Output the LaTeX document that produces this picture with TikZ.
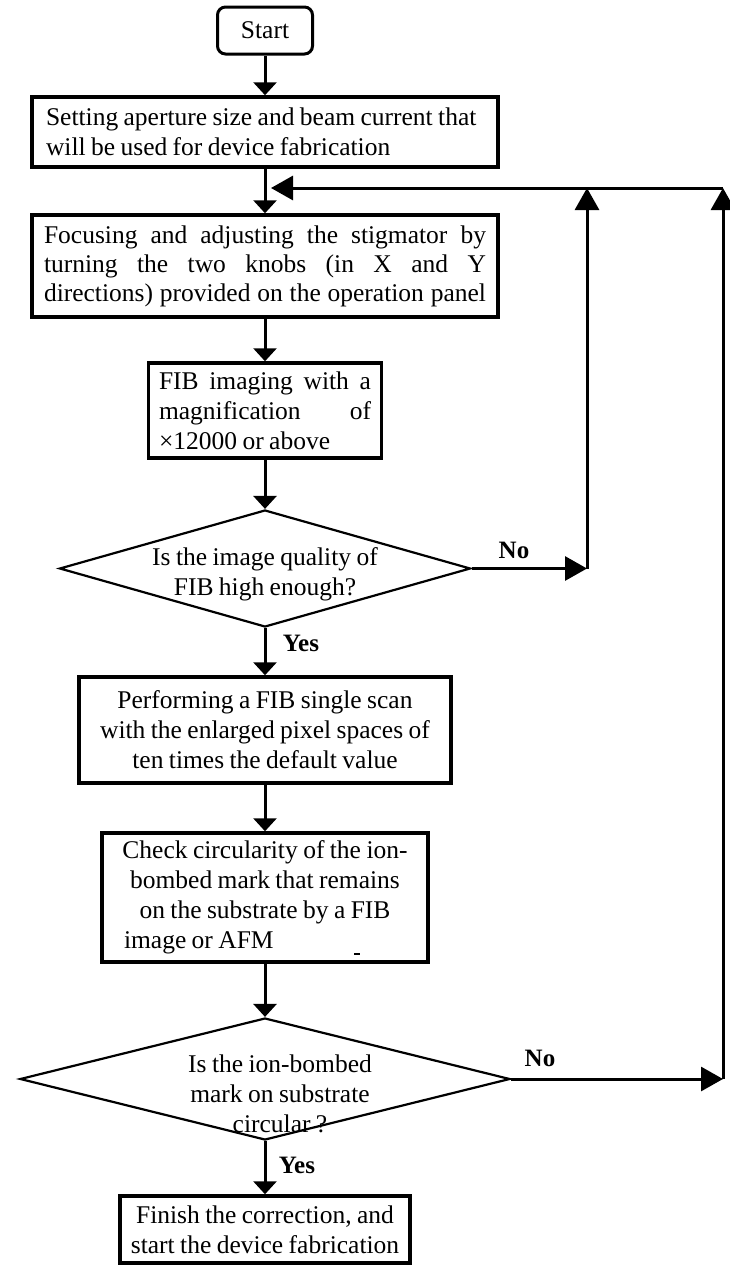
\documentclass[tikz,border=0pt]{standalone}
\usepackage{fontspec}
\setmainfont[WordSpace=0.85]{Liberation Serif}
\usetikzlibrary{arrows.meta,shapes.geometric}
\begin{document}
\begin{tikzpicture}[x=1pt,y=-1pt,
  every node/.style={font=\fontsize{25.5pt}{30pt}\selectfont},
  box/.style={draw, line width=3.5pt, inner sep=0pt},
  dia/.style={draw, shape=diamond, line width=2.2pt, inner sep=0pt},
  lbl/.style={font=\fontsize{25pt}{30pt}\selectfont\bfseries, inner sep=0pt},
  dn/.style={line width=3pt, -{Triangle[length=13pt,width=23pt]}},
  arr/.style={line width=3pt, -{Triangle[length=22pt,width=24pt]}}]
\fill[white] (0,0) rectangle (729,1266);
\useasboundingbox (0,0) rectangle (729,1266);

\node[box, rounded corners=8pt, line width=3pt, minimum width=95pt, minimum height=47pt] (start) at (265,30.5) {Start};

\node[box, minimum width=466pt, minimum height=70pt, align=left] (set) at (265,132)
  {\makebox[438pt][l]{Setting aperture size and beam current that}\\will be used for device fabrication};

\node[box, minimum width=466pt, minimum height=102pt, align=left,
  font=\fontsize{25.5pt}{29pt}\selectfont] (focus) at (265,266)
  {\makebox[442pt][s]{Focusing and adjusting the stigmator by}\\
   \makebox[442pt][s]{turning the two knobs (in X and Y}\\
   \makebox[442pt][s]{directions) provided on the operation panel}};

\node[box, minimum width=233pt, minimum height=95pt, align=left] (fib) at (265,410.5)
  {\makebox[212pt][s]{FIB imaging with a}\\
   \makebox[212pt][s]{magnification of}\\
   ×12000 or above};

\node[dia, minimum width=411pt, minimum height=117pt] (q1) at (265,568.5) {};
\node[align=center] (q1t) at (265,574) {Is the image quality of\\FIB high enough?};

\node[box, minimum width=372pt, minimum height=106pt, align=center] (scan) at (265,730)
  {Performing a FIB single scan\\with the enlarged pixel spaces of\\ten times the default value};

\node[box, minimum width=326pt, minimum height=129pt, align=center] (check) at (265,897.5)
  {Check circularity of the ion-\\bombed mark that remains\\on the substrate by a FIB\\\makebox[282pt][l]{image or AFM}};

\node[dia, minimum width=490pt, minimum height=122pt] (q2) at (265,1079) {};
\node[align=center] (q2t) at (280,1094) {Is the ion-bombed\\mark on substrate\\circular ?};

\node[box, minimum width=290pt, minimum height=67pt, align=center] (fin) at (265,1229.5)
  {Finish the correction, and\\start the device fabrication};

\node[lbl] (no1) at (514,550) {No};
\node[lbl] (no2) at (540,1058) {No};
\node[lbl] (yes1) at (301,643) {Yes};
\node[lbl] (yes2) at (297,1165) {Yes};

\coordinate (j) at (265,188);
\coordinate (c1) at (587,568.5);
\coordinate (c1t) at (587,188);
\coordinate (c2) at (723,1079);
\coordinate (c2t) at (723,188);

\draw[dn] (start) -- (set);
\draw[dn] (set) -- (focus);
\draw[dn] (focus) -- (fib);
\draw[dn] (fib) -- (q1);
\draw[dn] (q1) -- (scan);
\draw[dn] (scan) -- (check);
\draw[dn] (check) -- (q2);
\draw[dn] (q2) -- (fin);

\draw[arr] (q1.east) -- (c1);
\draw[arr] (c1) -- (c1t);
\draw[arr] (q2.east) -- (c2);
\draw[arr] (c2) -- (c2t);
\draw[arr, shorten >=6pt] (c2t) -- (j);

\draw[line width=1.5pt] (354,954) -- (360,954);
\end{tikzpicture}
\end{document}
